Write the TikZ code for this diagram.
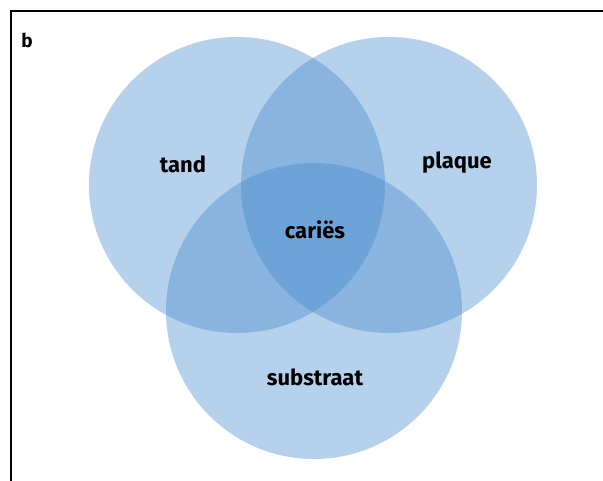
\documentclass[tikz,border=0pt]{standalone}
\usepackage{fontspec}
\setmainfont{Fira Sans}
\usepackage{tikz}
\usepackage{xcolor}
\definecolor{vennblue}{RGB}{64,134,204}
\tikzset{vennset/.style={fill=vennblue,fill opacity=0.38},
vennlabel/.style={font=\bfseries\fontsize{22}{26}\selectfont,text=black}}

\begin{document}
\begin{tikzpicture}[x=1pt,y=1pt]
\useasboundingbox (0,0) rectangle (603,481);
\draw[line width=1.2pt] (11,0) -- (11,470) -- (603,470);
\fill[vennset] (237,296) circle (148);
\fill[vennset] (389,296) circle (148);
\fill[vennset] (314,170) circle (148);
\node[font=\bfseries\fontsize{19}{22}\selectfont] (b) at (27,441) {b};
\node[vennlabel] (tand) at (183,317) {tand};
\node[vennlabel] (plaque) at (457,318) {plaque};
\node[vennlabel] (caries) at (315,251) {cariës};
\node[vennlabel] (substraat) at (315,104) {substraat};
\end{tikzpicture}
\end{document}
